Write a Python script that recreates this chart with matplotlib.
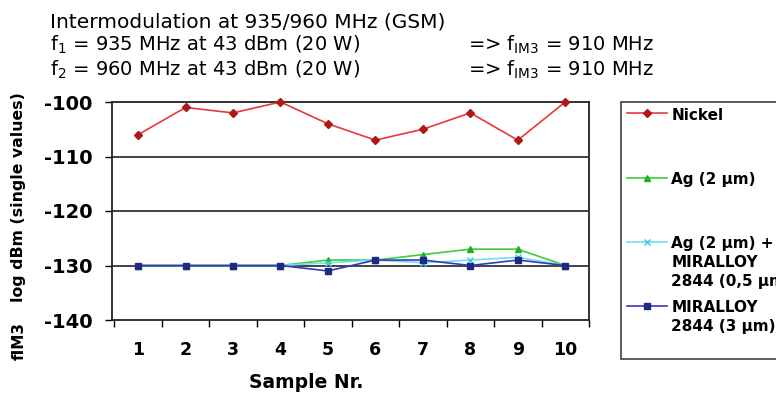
"""
plot.py - Intermodulation at 935/960 MHz (GSM), IM3 level per sample.
"""
import numpy as np
import matplotlib
matplotlib.use("Agg")
import matplotlib.pyplot as plt
from matplotlib.ticker import FixedLocator

plt.rcParams["font.family"] = ["DejaVu Sans"]

samples = [1, 2, 3, 4, 5, 6, 7, 8, 9, 10]
nickel = [-106, -101, -102, -100, -104, -107, -105, -102, -107, -100]
ag = [-130, -130, -130, -130, -129, -129, -128, -127, -127, -130]
ag_miralloy = [-130, -130, -130, -130, -129.5, -129, -129.5, -129, -128.5, -130]
miralloy = [-130, -130, -130, -130, -131, -129, -129, -130, -129, -130]
# trailing blank lines keep every legend row the same height (Excel spacing)
labels = ["Nickel\n\n", "Ag (2 µm)\n\n", "Ag (2 µm) +\nMIRALLOY\n2844 (0,5 µm)",
          "MIRALLOY\n2844 (3 µm)\n"]
yticks = [-140, -130, -120, -110, -100]

W, H = 776, 393
fig = plt.figure(figsize=(W / 100, H / 100), dpi=100)
ax = fig.add_axes([112 / W, 1 - 320 / H, 477 / W, 218 / H])

series = [
    (nickel, "#e8383a", "#b01818", "D", 4),
    (ag, "#3ccc3c", "#22b022", "^", 5),
    (ag_miralloy, "#6fe0f0", "#40c8e8", "x", 5),
    (miralloy, "#3838b8", "#1c2a80", "s", 4),
]
handles = []
for (vals, lc, mc, mk, ms), lab in zip(series, labels):
    h, = ax.plot(samples, vals, color=lc, lw=1.2, marker=mk, ms=ms,
                 mfc=mc, mec=mc, clip_on=False, zorder=3, label=lab)
    handles.append(h)

ax.set_xlim(0.45, 10.5)
ax.set_ylim(-140, -100)
ax.set_yticks(yticks)
ax.set_yticklabels([str(v) for v in yticks], fontsize=14, fontweight="bold")
ax.set_xticks(samples)
ax.set_xticklabels([str(s) for s in samples], fontsize=12.5, fontweight="bold")
ax.xaxis.set_minor_locator(FixedLocator(np.arange(0.5, 10.6, 1.0)))
ax.tick_params(axis="x", which="major", length=0, pad=15)
ax.tick_params(axis="x", which="minor", length=5, width=1, direction="out")
ax.tick_params(axis="y", length=5, width=1, direction="out", pad=9)
for v in yticks[1:-1]:
    ax.axhline(v, color="#222222", lw=1.2, zorder=1)
for sp in ax.spines.values():
    sp.set_linewidth(1.3)
    sp.set_color("#222222")

fig.text(306 / W, 1 - 383 / H, "Sample Nr.", fontsize=13.5, fontweight="bold",
         ha="center", va="center")
fig.text(19 / W, 1 - 341 / H, "fIM3", fontsize=11, fontweight="bold",
         rotation=90, ha="center", va="center")
fig.text(19 / W, 1 - 197 / H, "log dBm (single values)", fontsize=11.3,
         fontweight="bold", rotation=90, ha="center", va="center")

tx = 50 / W
fig.text(tx, 1 - 27 / H, "Intermodulation at 935/960 MHz (GSM)", fontsize=14.5, va="baseline")
fig.text(tx, 1 - 51 / H, r"f$_{\mathrm{1}}$ = 935 MHz at 43 dBm (20 W)", fontsize=14, va="baseline")
fig.text(tx, 1 - 76 / H, r"f$_{\mathrm{2}}$ = 960 MHz at 43 dBm (20 W)", fontsize=14, va="baseline")
for yb in (51, 76):
    fig.text(468 / W, 1 - yb / H, r"=> f$_{\mathrm{IM3}}$ = 910 MHz", fontsize=14, va="baseline")

leg = fig.legend(handles=handles, loc="upper left", bbox_to_anchor=(621 / W, 1 - 102 / H),
                 prop={"weight": "bold", "size": 11}, frameon=True, fancybox=False,
                 edgecolor="#222222", handlelength=2.6, handletextpad=0.3,
                 labelspacing=0.78, borderpad=0.4, borderaxespad=0)
leg.get_frame().set_linewidth(1.3)
for t in leg.get_texts():
    t.set_linespacing(1.3)
# line + marker sit at the first text line, as in the original
for col in leg._legend_handle_box.get_children():
    for row in col.get_children():
        row.align = "top"

fig.savefig("out.png", dpi=100)
